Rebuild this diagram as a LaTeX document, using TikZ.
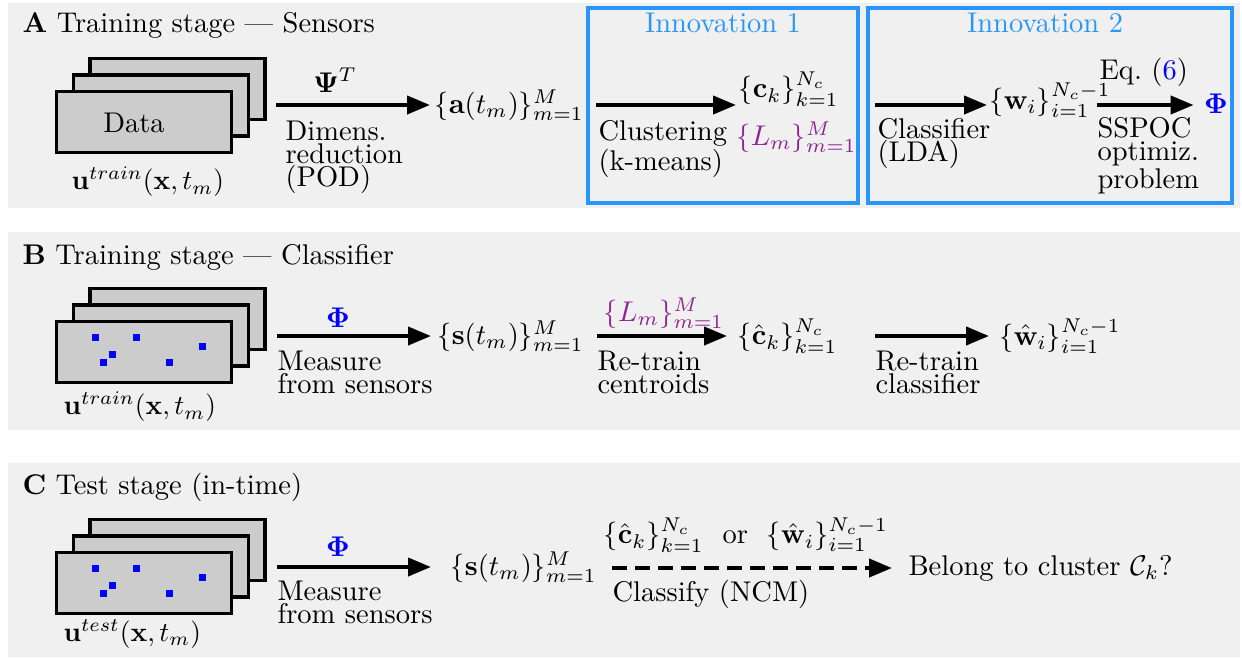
\documentclass[tikz,border=0pt]{standalone}
\usepackage{amsmath}
\usetikzlibrary{arrows.meta}
\definecolor{panelbg}{RGB}{240,240,240}
\definecolor{framefill}{RGB}{204,204,204}
\definecolor{innov}{RGB}{40,150,250}
\definecolor{lab}{RGB}{145,35,145}
\definecolor{sens}{RGB}{0,0,255}
\begin{document}
\begin{tikzpicture}[x=1pt,y=-1pt,
  every node/.style={inner sep=0pt},
  txt/.style={scale=2.85, font=\fontsize{10}{8.07}\selectfont},
  ulab/.style={scale=2.75, font=\fontsize{10}{8.07}\selectfont, anchor=west},
  panel/.style={fill=panelbg, draw=none},
  frame/.style={draw=black, line width=3.5pt, fill=framefill, minimum width=175pt, minimum height=61pt},
  sensor/.style={fill=sens, draw=none, minimum size=7pt},
  arr/.style={line width=4pt, -{Triangle[length=23pt,width=18pt]}},
  dasharr/.style={arr, dash pattern=on 15pt off 8pt},
  innovbox/.style={draw=innov, line width=3.5pt},
  stepnote/.style={txt, align=left, anchor=north west},
  ]
\fill[white] (0,0) rectangle (1242,659);
\useasboundingbox (0,0) rectangle (1242,659);

% ---------------- Panel A ----------------
\fill[panel] (8,3) rectangle (1240,208);
\node[txt, anchor=base west] (titleA) at (22,32) {\textbf{A} Training stage --- Sensors};
\node[frame] (backA) at (177.5,89) {};
\node[frame] (midA) at (161,105.5) {};
\node[frame] (frontA) at (144,122) {};
\node[txt] (dataA) at (134,122.5) {Data};
\node[ulab] (uA) at (71,182) {$\mathbf{u}^{train}(\mathbf{x},t_m)$};

\coordinate (a1) at (276,105);
\node[txt, anchor=west, inner xsep=1.4pt] (aA) at (430,105) {$\{\mathbf{a}(t_m)\}_{m=1}^{M}$};
\draw[arr] (a1) -- (a1 -| aA.west);
\node[txt, anchor=base] (psi) at (335,92) {$\mathbf{\Psi}^T$};
\node[stepnote] (dimA) at (285,120) {Dimens.\\reduction\\(POD)};

\draw[innovbox] (588,8) rectangle (858,203);
\node[txt, anchor=base, text=innov] (inn1) at (723,32) {Innovation 1};
\coordinate (a2) at (596,105);
\node[txt, anchor=south west, inner xsep=0.7pt] (ckA) at (736,107) {$\{\mathbf{c}_k\}_{k=1}^{N_c}$};
\draw[arr] (a2) -- (a2 -| ckA.west);
\node[stepnote] (clA) at (598,120) {Clustering\\(k-means)};
\node[txt, anchor=west, text=lab] (LmA) at (736,137) {$\{L_m\}_{m=1}^{M}$};

\draw[innovbox] (868,8) rectangle (1232,203);
\node[txt, anchor=base, text=innov] (inn2) at (1045,32) {Innovation 2};
\coordinate (a3) at (875,105);
\node[txt, anchor=west, inner xsep=0.7pt] (wA) at (987,100) {$\{\mathbf{w}_i\}_{i=1}^{N_c-1}$};
\draw[arr] (a3) -- (a3 -| wA.west);
\node[stepnote] (lda) at (877,118) {Classifier\\(LDA)};
\coordinate (a4) at (1097,105);
\node[txt, inner xsep=3.5pt, text=sens] (phiA) at (1216,104) {$\mathbf{\Phi}$};
\draw[arr] (a4) -- (a4 -| phiA.west);
\node[txt, anchor=base west] (eq) at (1099,79) {Eq.~(\textcolor{sens}{6})};
\node[stepnote] (sspoc) at (1097,117) {SSPOC\\optimiz.\\problem};

% ---------------- Panel B ----------------
\fill[panel] (8,232) rectangle (1240,430);
\node[txt, anchor=base west] (titleB) at (22,264) {\textbf{B} Training stage --- Classifier};
\node[frame] (backB) at (177.5,319) {};
\node[frame] (midB) at (161,335.5) {};
\node[frame] (frontB) at (144,352) {};
\foreach \dx/\dy [count=\i] in {-48.3/-14.3,-7.3/-14.3,58.3/-6,-32/2,-40.3/10.3,25.7/10.3}
  \node[sensor] (sB\i) at ([shift={(\dx,\dy)}]frontB.center) {};
\node[ulab] (uB) at (63,407) {$\mathbf{u}^{train}(\mathbf{x},t_m)$};

\coordinate (b1) at (277,336);
\node[txt, anchor=west, inner xsep=2.1pt] (sB) at (431,336) {$\{\mathbf{s}(t_m)\}_{m=1}^{M}$};
\draw[arr] (b1) -- (b1 -| sB.west);
\node[txt, anchor=base, text=sens] (phiB) at (338,327) {$\mathbf{\Phi}$};
\node[stepnote] (measB) at (277,350) {Measure\\from sensors};

\coordinate (b2) at (597,336);
\node[txt, anchor=west, inner xsep=3.5pt] (chB) at (727,336) {$\{\hat{\mathbf{c}}_k\}_{k=1}^{N_c}$};
\draw[arr] (b2) -- (b2 -| chB.west);
\node[txt, text=lab] (LmB) at (664,313) {$\{L_m\}_{m=1}^{M}$};
\node[stepnote] (rtc) at (597,350) {Re-train\\centroids};

\coordinate (b3) at (875,336);
\node[txt, anchor=west, inner xsep=3.5pt] (whB) at (989,336) {$\{\hat{\mathbf{w}}_i\}_{i=1}^{N_c-1}$};
\draw[arr] (b3) -- (b3 -| whB.west);
\node[stepnote] (rtcl) at (875,350) {Re-train\\classifier};

% ---------------- Panel C ----------------
\fill[panel] (8,463) rectangle (1240,657);
\node[txt, anchor=base west] (titleC) at (22,494) {\textbf{C} Test stage (in-time)};
\node[frame] (backC) at (177.5,550) {};
\node[frame] (midC) at (161,566.5) {};
\node[frame] (frontC) at (144,583) {};
\foreach \dx/\dy [count=\i] in {-48.3/-14.3,-7.3/-14.3,58.3/-6,-32/2,-40.3/10.3,25.7/10.3}
  \node[sensor] (sC\i) at ([shift={(\dx,\dy)}]frontC.center) {};
\node[ulab] (uC) at (63,634) {$\mathbf{u}^{test}(\mathbf{x},t_m)$};

\coordinate (c1) at (277,567);
\node[txt, anchor=west, inner xsep=6.7pt] (sC) at (431,567) {$\{\mathbf{s}(t_m)\}_{m=1}^{M}$};
\draw[arr] (c1) -- (c1 -| sC.west);
\node[txt, anchor=base, text=sens] (phiC) at (338,556) {$\mathbf{\Phi}$};
\node[stepnote] (measC) at (277,580) {Measure\\from sensors};

\coordinate (c2) at (612,568);
\node[txt, anchor=west, inner xsep=5.6pt] (belong) at (892,568) {Belong to cluster $\mathcal{C}_k$?};
\draw[dasharr] (c2) -- (c2 -| belong.west);
\node[txt, anchor=west] (orlab) at (603,535) {$\{\hat{\mathbf{c}}_k\}_{k=1}^{N_c}$\ \ or\ \ $\{\hat{\mathbf{w}}_i\}_{i=1}^{N_c-1}$};
\node[stepnote] (ncm) at (612,580) {Classify (NCM)};
\end{tikzpicture}
\end{document}
